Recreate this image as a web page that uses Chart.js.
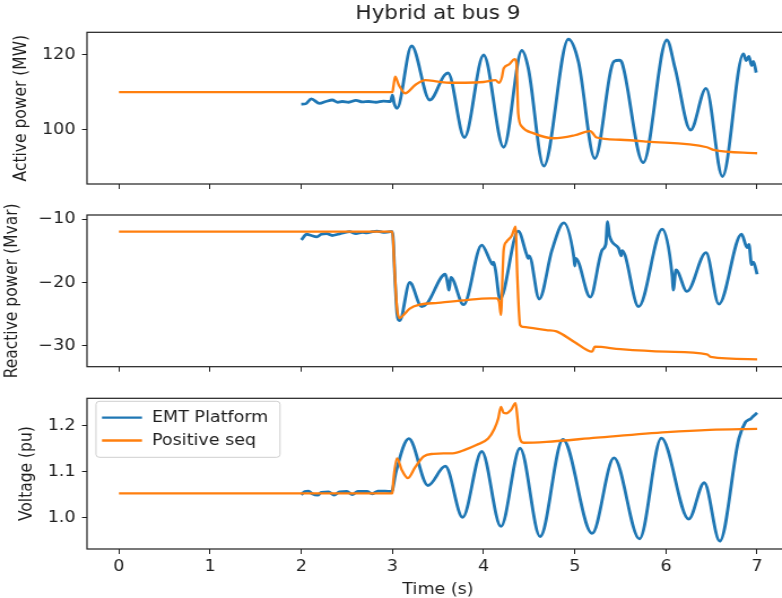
<!DOCTYPE html>
<html>
<head>
<meta charset="utf-8">
<title>Hybrid at bus 9</title>
<script src="https://cdn.jsdelivr.net/npm/chart.js@4.4.0/dist/chart.umd.min.js"></script>
<style>
  html, body { margin: 0; padding: 0; background: #fff; width: 782px; height: 598px; overflow: hidden; }
  /* the reference figure is stretched sideways, so each panel is drawn narrow and scaled in x */
  .panel { position: absolute; left: 0; transform: scaleX(1.13); transform-origin: 0 0; }
  .panel canvas { display: block; }
</style>
</head>
<body>
<div class="panel" style="top:0px"><canvas id="chart-active" width="708" height="190"></canvas></div>
<div class="panel" style="top:198px"><canvas id="chart-reactive" width="708" height="190"></canvas></div>
<div class="panel" style="top:393px"><canvas id="chart-voltage" width="708" height="205"></canvas></div>

<script>
// --- data (time in s) ---
const timeTicks = [0, 1, 2, 3, 4, 5, 6, 7];
const activeTicks = [100, 120];
const reactiveTicks = [-30, -20, -10];
const voltageTicks = [1.0, 1.1, 1.2];

const seriesNames = ["EMT Platform", "Positive seq"];

// Active power (MW)
const activeEmtT = [2.00, 2.05, 2.11, 2.20, 2.27, 2.34, 2.40, 2.45, 2.52, 2.60, 2.67, 2.74, 2.82, 2.90, 2.98, 3.00, 3.02, 3.05, 3.21, 3.41, 3.57, 3.61, 3.79, 4.00, 4.22, 4.42, 4.49, 4.66, 4.93, 5.04, 5.22, 5.43, 5.49, 5.52, 5.75, 6.01, 6.10, 6.27, 6.44, 6.62, 6.85, 6.88, 6.91, 6.94, 6.96, 6.99];
const activeEmtMw = [106.9, 107.0, 108.3, 107.1, 107.6, 108.0, 107.4, 107.6, 107.4, 107.9, 107.5, 107.6, 107.4, 107.7, 107.6, 109.3, 107.0, 105.8, 122.4, 108.0, 114.6, 115.2, 98.0, 120.0, 95.4, 121.2, 116.5, 90.4, 124.2, 118.2, 92.4, 118.3, 118.6, 117.8, 91.3, 124.0, 116.5, 100.0, 111.1, 87.6, 120.3, 118.5, 119.6, 117.2, 118.3, 115.3];
const activeSeqT = [0, 3.00, 3.01, 3.03, 3.07, 3.14, 3.25, 3.36, 3.50, 3.63, 3.80, 4.00, 4.13, 4.17, 4.20, 4.22, 4.28, 4.34, 4.36, 4.38, 4.42, 4.55, 4.77, 5.00, 5.17, 5.24, 5.50, 5.79, 6.45, 6.52, 7.00];
const activeSeqMw = [110.1, 110.1, 111.5, 114.2, 112.0, 109.8, 112.0, 113.3, 112.9, 112.6, 112.6, 112.8, 113.3, 112.6, 114.0, 116.4, 117.5, 118.9, 118.0, 104.4, 100.9, 99.1, 97.8, 98.6, 99.7, 98.0, 97.4, 96.9, 95.4, 94.7, 93.8];

// Reactive power (Mvar)
const reactiveEmtT = [2.00, 2.06, 2.11, 2.17, 2.22, 2.28, 2.34, 2.40, 2.46, 2.53, 2.60, 2.67, 2.72, 2.78, 2.83, 2.90, 2.98, 3.00, 3.03, 3.05, 3.08, 3.19, 3.32, 3.38, 3.58, 3.61, 3.62, 3.64, 3.78, 3.98, 4.07, 4.10, 4.11, 4.13, 4.18, 4.38, 4.47, 4.49, 4.50, 4.61, 4.75, 4.88, 4.99, 5.00, 5.01, 5.17, 5.30, 5.34, 5.36, 5.38, 5.48, 5.51, 5.52, 5.70, 5.96, 6.07, 6.08, 6.11, 6.23, 6.44, 6.58, 6.83, 6.89, 6.91, 6.94, 6.96, 7.00];
const reactiveEmtMvar = [-13.3, -12.4, -12.6, -12.8, -12.4, -12.3, -12.6, -12.4, -12.2, -12.0, -12.3, -12.1, -12.2, -12.0, -11.9, -12.1, -12.0, -12.0, -20.0, -24.8, -26.0, -20.0, -23.8, -23.3, -18.7, -20.5, -21.2, -19.2, -23.5, -14.1, -16.5, -17.2, -16.8, -18.0, -22.6, -11.9, -15.5, -16.2, -15.8, -22.6, -14.9, -10.6, -16.0, -17.4, -16.2, -22.3, -14.9, -14.0, -10.4, -12.6, -14.6, -15.8, -15.0, -23.8, -11.6, -19.1, -21.2, -18.0, -21.4, -15.3, -23.4, -12.4, -14.5, -14.0, -17.2, -16.8, -18.7];
const reactiveSeqT = [0, 3.00, 3.02, 3.05, 3.08, 3.13, 3.19, 3.30, 3.50, 3.78, 4.07, 4.14, 4.17, 4.19, 4.21, 4.22, 4.25, 4.31, 4.35, 4.37, 4.40, 4.43, 4.69, 4.80, 5.00, 5.19, 5.22, 5.50, 6.00, 6.45, 6.49, 7.00];
const reactiveSeqMvar = [-12.0, -12.0, -17.0, -24.0, -25.6, -25.0, -24.1, -23.5, -23.2, -22.8, -22.5, -22.5, -23.0, -25.1, -18.0, -14.9, -13.6, -12.6, -11.2, -19.1, -26.7, -27.0, -27.5, -27.7, -29.4, -30.9, -30.1, -30.5, -30.9, -31.3, -31.7, -32.1];

// Voltage (pu)
const voltageEmtT = [2.00, 2.04, 2.08, 2.12, 2.18, 2.22, 2.30, 2.36, 2.42, 2.50, 2.56, 2.62, 2.72, 2.78, 2.84, 2.92, 2.99, 3.00, 3.04, 3.18, 3.39, 3.58, 3.77, 3.98, 4.19, 4.40, 4.62, 4.87, 5.19, 5.43, 5.71, 5.95, 6.25, 6.42, 6.59, 6.80, 6.87, 6.90, 6.93, 6.96, 7.00];
const voltageEmtPu = [1.050, 1.057, 1.058, 1.052, 1.049, 1.055, 1.056, 1.049, 1.056, 1.057, 1.050, 1.057, 1.057, 1.052, 1.058, 1.058, 1.057, 1.060, 1.100, 1.172, 1.070, 1.112, 1.001, 1.144, 0.981, 1.151, 0.959, 1.170, 0.966, 1.130, 0.954, 1.173, 0.997, 1.076, 0.949, 1.172, 1.207, 1.212, 1.215, 1.221, 1.228];
const voltageSeqT = [0, 3.00, 3.01, 3.05, 3.10, 3.17, 3.25, 3.34, 3.45, 3.56, 3.66, 3.80, 3.92, 4.05, 4.12, 4.16, 4.19, 4.22, 4.25, 4.30, 4.35, 4.37, 4.39, 4.44, 4.69, 5.24, 6.01, 6.48, 7.00];
const voltageSeqPu = [1.053, 1.053, 1.080, 1.129, 1.105, 1.086, 1.110, 1.133, 1.139, 1.140, 1.140, 1.148, 1.158, 1.172, 1.194, 1.215, 1.241, 1.228, 1.227, 1.234, 1.249, 1.220, 1.180, 1.163, 1.165, 1.174, 1.186, 1.191, 1.193];

// --- look ---
const BLUE = "#1f77b4";
const ORANGE = "#ff7f0e";
const TEXT = "#1e1e1e";
const FONT = "'DejaVu Sans', sans-serif";
const FS = 15.5;                 // base font size
const S = 1.13;                  // horizontal stretch applied by CSS
const CANVAS_W = 708;
const cx = px => px / S;         // screen px (horizontal) -> canvas px

Chart.defaults.font.family = FONT;
Chart.defaults.color = TEXT;

function toXY(ts, vs) {
    return ts.map((t, i) => ({ x: t, y: vs[i] }));
}

function minusFmt(v) {
    return v < 0 ? "\u2212" + Math.abs(v) : String(v);
}

// box round the plot area, like matplotlib spines
const frame = {
    id: "frame",
    afterDraw(chart) {
        const { ctx, chartArea: a } = chart;
        ctx.save();
        ctx.strokeStyle = TEXT;
        ctx.lineWidth = 1.2;
        ctx.strokeRect(a.left, a.top, a.right - a.left, a.bottom - a.top);
        ctx.restore();
    }
};

// rotated y label, drawn here so a long label is not squeezed to the plot height
const yTitle = {
    id: "yTitle",
    afterDraw(chart) {
        const o = chart.options.plugins.yTitle;
        const { ctx, chartArea: a } = chart;
        ctx.save();
        ctx.translate(cx(o.x), (a.top + a.bottom) / 2);
        ctx.rotate(-Math.PI / 2);
        ctx.font = FS + "px " + FONT;
        ctx.fillStyle = TEXT;
        ctx.textAlign = "center";
        ctx.textBaseline = "middle";
        ctx.fillText(o.text, 0, 0);
        ctx.restore();
    }
};

// matplotlib style legend box, only on the voltage panel
const legendBox = {
    id: "legendBox",
    afterDraw(chart) {
        if (!chart.options.plugins.legendBox.show) return;
        const { ctx, chartArea: a } = chart;
        const x = a.left + cx(9), y = a.top + 3, w = cx(184), h = 56;
        ctx.save();
        ctx.fillStyle = "rgba(255,255,255,0.8)";
        ctx.strokeStyle = "#cfcfcf";
        ctx.lineWidth = 1;
        ctx.beginPath();
        ctx.roundRect(x, y, w, h, 3);
        ctx.fill();
        ctx.stroke();
        const colors = [BLUE, ORANGE];
        ctx.font = FS + "px " + FONT;
        ctx.textBaseline = "middle";
        ctx.textAlign = "left";
        seriesNames.forEach((name, i) => {
            const ry = y + 16.4 + i * 22.8;
            ctx.strokeStyle = colors[i];
            ctx.lineWidth = 2.3;
            ctx.beginPath();
            ctx.moveTo(x + cx(6), ry);
            ctx.lineTo(x + cx(46), ry);
            ctx.stroke();
            ctx.fillStyle = TEXT;
            ctx.fillText(name, x + cx(56), ry);
        });
        ctx.restore();
    }
};

function makePanel(id, cfg) {
    const lineOpts = { pointRadius: 0, fill: false, cubicInterpolationMode: "monotone" };
    return new Chart(document.getElementById(id), {
        type: "line",
        data: {
            datasets: [
                Object.assign({ label: seriesNames[1], data: toXY(cfg.seqT, cfg.seqV), borderColor: ORANGE, borderWidth: 2.3, order: 0 }, lineOpts),
                Object.assign({ label: seriesNames[0], data: toXY(cfg.emtT, cfg.emtV), borderColor: BLUE, borderWidth: 2.8, order: 1 }, lineOpts)
            ]
        },
        options: {
            responsive: false,
            animation: false,
            events: [],
            layout: { padding: { top: cfg.padTop, right: CANVAS_W - cx(789), left: 0, bottom: cfg.padBottom || 0 } },
            plugins: {
                legend: { display: false },
                tooltip: { enabled: false },
                legendBox: { show: !!cfg.legend },
                yTitle: { text: cfg.yTitle, x: cfg.yTitleX },
                title: cfg.title ? {
                    display: true, text: cfg.title, fullSize: false, color: TEXT,
                    font: { family: FONT, size: 19, weight: "normal", lineHeight: 1.2 },
                    padding: { top: 2.6, bottom: 6.9 }
                } : { display: false }
            },
            scales: {
                x: {
                    type: "linear", min: -0.35, max: 7.35,
                    afterBuildTicks: s => { s.ticks = timeTicks.map(v => ({ value: v })); },
                    afterFit: s => { s.height = cfg.xHeight; s.paddingLeft = 0; s.paddingRight = 0; },
                    grid: { drawOnChartArea: false, drawTicks: true, tickLength: 5, color: TEXT, lineWidth: 1 },
                    border: { display: false },
                    ticks: { display: !!cfg.xLabels, autoSkip: false, maxRotation: 0, padding: 3.4, color: TEXT, font: { size: FS, lineHeight: 1.2 } },
                    title: { display: !!cfg.xLabels, text: "Time (s)", color: TEXT, font: { size: FS, lineHeight: 1.1 }, padding: { top: 0, bottom: 0 } }
                },
                y: {
                    min: cfg.yMin, max: cfg.yMax,
                    afterBuildTicks: s => { s.ticks = cfg.yTicks.map(v => ({ value: v })); },
                    afterFit: s => { s.width = cx(87); s.paddingTop = 0; s.paddingBottom = 0; },
                    grid: { drawOnChartArea: false, drawTicks: true, tickLength: cx(5), color: TEXT, lineWidth: 1 },
                    border: { display: false },
                    ticks: { padding: cx(6.5), color: TEXT, font: { size: FS }, callback: cfg.yFmt },
                    title: { display: false }
                }
            }
        },
        plugins: [frame, yTitle, legendBox]
    });
}

makePanel("chart-active", {
    emtT: activeEmtT, emtV: activeEmtMw, seqT: activeSeqT, seqV: activeSeqMw,
    title: "Hybrid at bus 9", padTop: 0, xHeight: 6,
    yMin: 85.6, yMax: 126.05, yTicks: activeTicks, yFmt: v => String(v),
    yTitle: "Active power (MW)", yTitleX: 21
});

makePanel("chart-reactive", {
    emtT: reactiveEmtT, emtV: reactiveEmtMvar, seqT: reactiveSeqT, seqV: reactiveSeqMvar,
    padTop: 17, padBottom: 15, xHeight: 6.3,
    yMin: -33.26, yMax: -9.37, yTicks: reactiveTicks, yFmt: minusFmt,
    yTitle: "Reactive power (Mvar)", yTitleX: 12
});

makePanel("chart-voltage", {
    emtT: voltageEmtT, emtV: voltageEmtPu, seqT: voltageSeqT, seqV: voltageSeqPu,
    padTop: 5.3, xHeight: 49, xLabels: true, legend: true,
    yMin: 0.932, yMax: 1.2596, yTicks: voltageTicks, yFmt: v => v.toFixed(1),
    yTitle: "Voltage (pu)", yTitleX: 27
});
</script>
</body>
</html>
